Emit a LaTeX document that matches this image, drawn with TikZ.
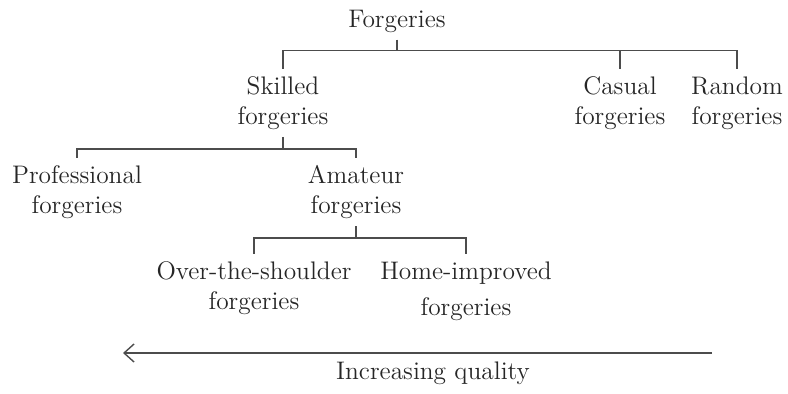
\documentclass[tikz,border=0pt]{standalone}
\usetikzlibrary{arrows.meta}
\begin{document}
\begin{tikzpicture}[x=0.5pt, y=-0.5pt,
    every node/.style={align=center, inner sep=3.5pt, text=black!85, font=\fontsize{12.7}{15}\selectfont},
    link/.style={draw=black!70, line width=0.7pt}]
    \useasboundingbox (0,0) rectangle (788,393);
    \node (forg) at (397,21) {Forgeries};
    \node (skilled) at (283,103) {Skilled\\forgeries};
    \node (casual) at (620,103) {Casual\\forgeries};
    \node (random) at (737,103) {Random\\forgeries};
    \node (prof) at (77,192) {Professional\\forgeries};
    \node (amateur) at (356,192) {Amateur\\forgeries};
    \node (over) at (254,288) {Over-the-shoulder\\forgeries};
    \node (home) at (466,291) {Home-improved\\[3pt]forgeries};
    \node (quality) at (433,373) {Increasing quality};

    \draw[link] (forg.south) -- ++(0,11) coordinate (fork1) -| (skilled.north);
    \draw[link] (fork1) -| (casual.north);
    \draw[link] (fork1) -| (random.north);
    \draw[link] (skilled.south) -- ++(0,12) coordinate (fork2) -| (prof.north);
    \draw[link] (fork2) -| (amateur.north);
    \draw[link] (amateur.south) -- ++(0,12) coordinate (fork3) -| (over.north);
    \draw[link] (fork3) -| (home.north);

    \coordinate (qright) at (712,353);
    \coordinate (qleft) at (123,353);
    \draw[link, -{Straight Barb[length=5pt, width=9pt]}] (qright) -- (qleft);
\end{tikzpicture}
\end{document}
